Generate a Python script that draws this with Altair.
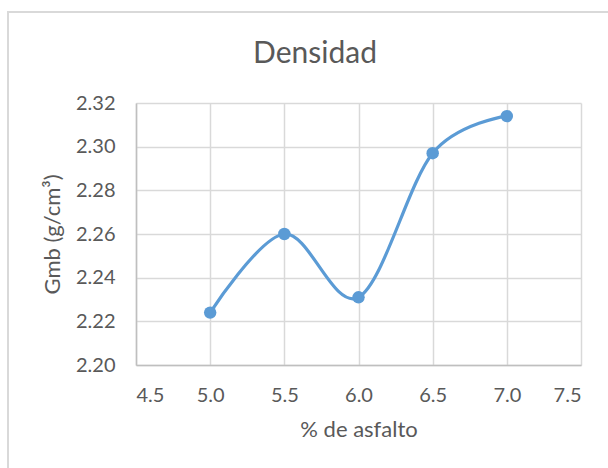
import altair as alt
import pandas as pd

# Asphalt content (%) and bulk specific gravity Gmb (g/cm³)
asfalto = [5.0, 5.5, 6.0, 6.5, 7.0]
gmb = [2.224, 2.260, 2.231, 2.297, 2.314]

x_ticks = [4.5, 5.0, 5.5, 6.0, 6.5, 7.0, 7.5]
y_ticks = [2.20, 2.22, 2.24, 2.26, 2.28, 2.30, 2.32]

df = pd.DataFrame({"asfalto": asfalto, "gmb": gmb})

FONT = "Lato"
TEXT = "#595959"
BLUE = "#5b9bd5"
W, H = 445, 262

x_enc = alt.X(
    "asfalto:Q",
    scale=alt.Scale(domain=[4.5, 7.5], nice=False, zero=False),
    axis=alt.Axis(values=x_ticks, format=".1f", title="% de asfalto",
                  labelPadding=20, titlePadding=14),
)
y_enc = alt.Y(
    "gmb:Q",
    scale=alt.Scale(domain=[2.20, 2.32], nice=False, zero=False),
    axis=alt.Axis(values=y_ticks, format=".2f", title="Gmb (g/cm³)",
                  labelPadding=21, titlePadding=11),
)

base = alt.Chart(df).encode(x=x_enc, y=y_enc)

line = base.mark_line(interpolate="cardinal", color=BLUE, strokeWidth=3.2)
points = base.mark_circle(color=BLUE, size=155, opacity=1)

# Outer chart frame
frame = alt.Chart(pd.DataFrame({"k": [0]})).mark_rect(
    fill=None, stroke="#d9d9d9", strokeWidth=2
).encode(
    x=alt.value(-128), x2=alt.value(W + 60),
    y=alt.value(-91), y2=alt.value(H + 150),
)

title = alt.Chart(pd.DataFrame({"t": ["Densidad"]})).mark_text(
    font=FONT, fontSize=30, color=TEXT, align="center", baseline="alphabetic"
).encode(x=alt.value(179), y=alt.value(-40), text="t:N")

chart = alt.layer(frame, line, points, title).properties(
    width=W, height=H,
    autosize=alt.AutoSizeParams(type="none"),
    padding={"left": 136, "top": 103, "right": 27, "bottom": 103},
    background="white",
).configure_view(stroke=None).configure_axis(
    labelFont=FONT, titleFont=FONT,
    labelFontSize=20, titleFontSize=22,
    labelColor=TEXT, titleColor=TEXT, titleFontWeight="normal",
    gridColor="#d9d9d9", gridWidth=1.5,
    domainColor="#bfbfbf", domainWidth=1.5,
    ticks=False,
).configure_axisX(grid=True).configure_axisY(grid=True)

chart.save("out.html", embed_options={"renderer": "svg", "actions": False})
